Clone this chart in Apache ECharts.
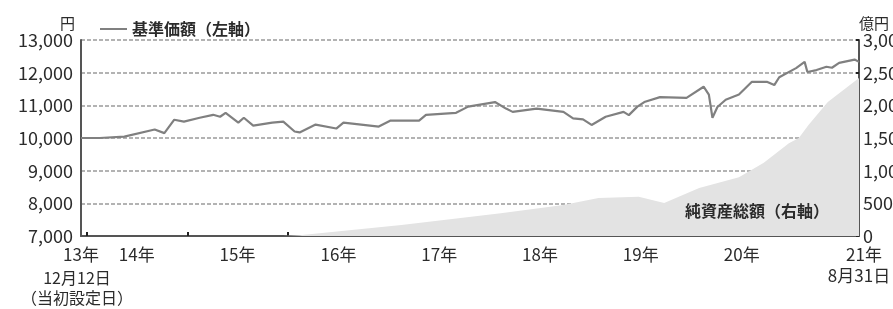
<!DOCTYPE html>
<html>
<head>
<meta charset="utf-8">
<script src="https://cdn.jsdelivr.net/npm/echarts@6/dist/echarts.min.js"></script>
<style>
  html, body { margin: 0; padding: 0; background: #fff; }
  #chart { width: 893px; height: 309px; }
</style>
</head>
<body>
<div id="chart"></div>
<script>
// 基準価額 (左軸, 円)
const navDates = [
  "2013-12-12", "2014-02-18", "2014-05-18", "2014-09-05", "2014-10-10", "2014-11-15",
  "2014-12-20", "2015-02-15", "2015-04-05", "2015-04-30", "2015-05-20", "2015-07-05",
  "2015-07-25", "2015-08-28", "2015-11-05", "2015-12-15", "2016-01-25", "2016-02-12",
  "2016-04-10", "2016-06-24", "2016-07-20", "2016-11-25", "2017-01-05", "2017-04-20",
  "2017-05-15", "2017-09-01", "2017-10-15", "2018-01-20", "2018-03-01", "2018-03-25",
  "2018-06-20", "2018-09-25", "2018-10-30", "2018-12-05", "2019-01-05", "2019-02-25",
  "2019-05-01", "2019-05-20", "2019-06-20", "2019-07-15", "2019-09-10", "2019-12-15",
  "2020-02-15", "2020-03-05", "2020-03-18", "2020-04-05", "2020-05-05", "2020-06-22",
  "2020-08-08", "2020-10-01", "2020-10-28", "2020-11-15", "2021-01-15", "2021-02-15",
  "2021-02-25", "2021-03-30", "2021-05-05", "2021-05-25", "2021-06-20", "2021-08-15",
  "2021-08-31"
];
const navValues = [
  10000, 10000, 10040, 10260, 10150, 10560,
  10500, 10620, 10710, 10650, 10770, 10470,
  10620, 10380, 10470, 10500, 10200, 10170,
  10410, 10290, 10470, 10350, 10530, 10530,
  10710, 10770, 10960, 11100, 10900, 10800,
  10900, 10800, 10600, 10570, 10400, 10650,
  10800, 10700, 10960, 11100, 11250, 11230,
  11570, 11330, 10620, 10950, 11170, 11330,
  11720, 11720, 11620, 11860, 12140, 12330,
  12020, 12080, 12180, 12150, 12300, 12400,
  12330
];

// 純資産総額 (右軸, 億円)
const assetDates = [
  "2015-12-15", "2016-02-12", "2017-02-15", "2018-02-10", "2018-09-25", "2019-01-30",
  "2019-06-25", "2019-09-25", "2020-01-30", "2020-06-22", "2020-09-20", "2020-12-20",
  "2021-01-25", "2021-03-01", "2021-05-10", "2021-08-31"
];
const assetValues = [
  0, 10, 170, 350, 475, 580,
  600, 505, 735, 900, 1120, 1420,
  1500, 1700, 2050, 2420
];

const startDate = "2013-12-12";
const endDate = "2021-08-31";
const tickYears = [2014, 2015, 2016, 2017, 2018, 2019, 2020, 2021];
const labelYears = [2014, 2015, 2016, 2017, 2018, 2019, 2020];

function ts(s) {
  const p = s.split("-").map(Number);
  return Date.UTC(p[0], p[1] - 1, p[2]);
}

const startTs = ts(startDate);
const endTs = ts(endDate);
const tickValues = tickYears.map(y => Date.UTC(y, 0, 1));
const labelValues = [startTs].concat(labelYears.map(y => Date.UTC(y, 6, 2)), [endTs]);

const font = "'Noto Sans CJK JP', 'Noto Sans', sans-serif";
const textColor = "#2b2b2b";
const axisColor = "#555";

const chart = echarts.init(document.getElementById("chart"));

chart.setOption({
  animation: false,
  textStyle: { fontFamily: font },
  grid: { left: 81, right: 34, top: 40, bottom: 73, outerBoundsMode: "none", containLabel: false },
  legend: {
    data: [{ name: "基準価額（左軸）", icon: "rect" }],
    left: 95,
    top: 16,
    itemWidth: 27,
    itemHeight: 2,
    itemGap: 7,
    textStyle: { fontSize: 16, fontWeight: "bold", color: textColor, fontFamily: font }
  },
  xAxis: {
    type: "value",
    min: startTs,
    max: endTs,
    axisLine: { lineStyle: { color: axisColor, width: 2 } },
    axisTick: {
      customValues: tickValues,
      inside: true,
      length: 4,
      lineStyle: { color: "#222", width: 2 }
    },
    splitLine: { show: false },
    axisLabel: {
      customValues: labelValues,
      showMinLabel: true,
      showMaxLabel: true,
      hideOverlap: false,
      margin: 8,
      fontSize: 17,
      lineHeight: 21,
      color: textColor,
      formatter: function (value) {
        if (Math.abs(value - startTs) < 86400000) {
          return "13年";
        }
        if (Math.abs(value - endTs) < 86400000) {
          return "{r|21年}\n{e|8月31日}";
        }
        return (new Date(value).getUTCFullYear() % 100) + "年";
      },
      rich: {
        r: { fontSize: 17, padding: [0, 0, 0, 10], color: textColor, lineHeight: 21 },
        e: { fontSize: 17, color: textColor, lineHeight: 21 }
      }
    }
  },
  yAxis: [
    {
      type: "value",
      name: "円",
      nameLocation: "end",
      nameGap: 9,
      nameTextStyle: { fontSize: 15, color: textColor, align: "right", padding: [0, 6, 0, 0] },
      min: 7000,
      max: 13000,
      interval: 1000,
      axisLine: { show: true, lineStyle: { color: axisColor, width: 2 } },
      axisTick: { show: false },
      axisLabel: {
        fontSize: 18,
        color: textColor,
        margin: 8,
        padding: [0, 0, 6, 0],
        formatter: v => v.toLocaleString("en-US")
      },
      splitLine: {
        show: true,
        lineStyle: { color: "#9a9a9a", type: [4, 2], width: 1.5 }
      }
    },
    {
      type: "value",
      name: "億円",
      nameLocation: "end",
      nameGap: 9,
      nameTextStyle: { fontSize: 15, color: textColor, align: "left" },
      min: 0,
      max: 3000,
      interval: 500,
      position: "right",
      axisLine: { show: true, lineStyle: { color: axisColor, width: 2 } },
      axisTick: { show: true, inside: true, length: 3, lineStyle: { color: "#222", width: 2 } },
      axisLabel: {
        fontSize: 18,
        color: textColor,
        margin: 4,
        formatter: v => v.toLocaleString("en-US")
      },
      splitLine: { show: false }
    }
  ],
  graphic: [
    {
      type: "text",
      left: 685,
      top: 203,
      z: 10,
      style: {
        text: "純資産総額（右軸）",
        fontSize: 16,
        fontWeight: "bold",
        fill: textColor,
        fontFamily: font
      }
    },
    {
      type: "text",
      x: 77,
      y: 268,
      style: {
        text: "12月12日\n（当初設定日）",
        align: "center",
        fontSize: 16,
        lineHeight: 20,
        fill: textColor,
        fontFamily: font
      }
    }
  ],
  series: [
    {
      name: "純資産総額（右軸）",
      type: "line",
      yAxisIndex: 1,
      data: assetDates.map((d, i) => [ts(d), assetValues[i]]),
      showSymbol: false,
      lineStyle: { width: 0 },
      itemStyle: { color: "#e3e3e3" },
      areaStyle: { color: "#e3e3e3", opacity: 1 },
      z: 2
    },
    {
      name: "基準価額（左軸）",
      type: "line",
      yAxisIndex: 0,
      data: navDates.map((d, i) => [ts(d), navValues[i]]),
      showSymbol: false,
      lineStyle: { color: "#808080", width: 2.2 },
      itemStyle: { color: "#808080" },
      z: 3
    }
  ]
});
</script>
</body>
</html>
